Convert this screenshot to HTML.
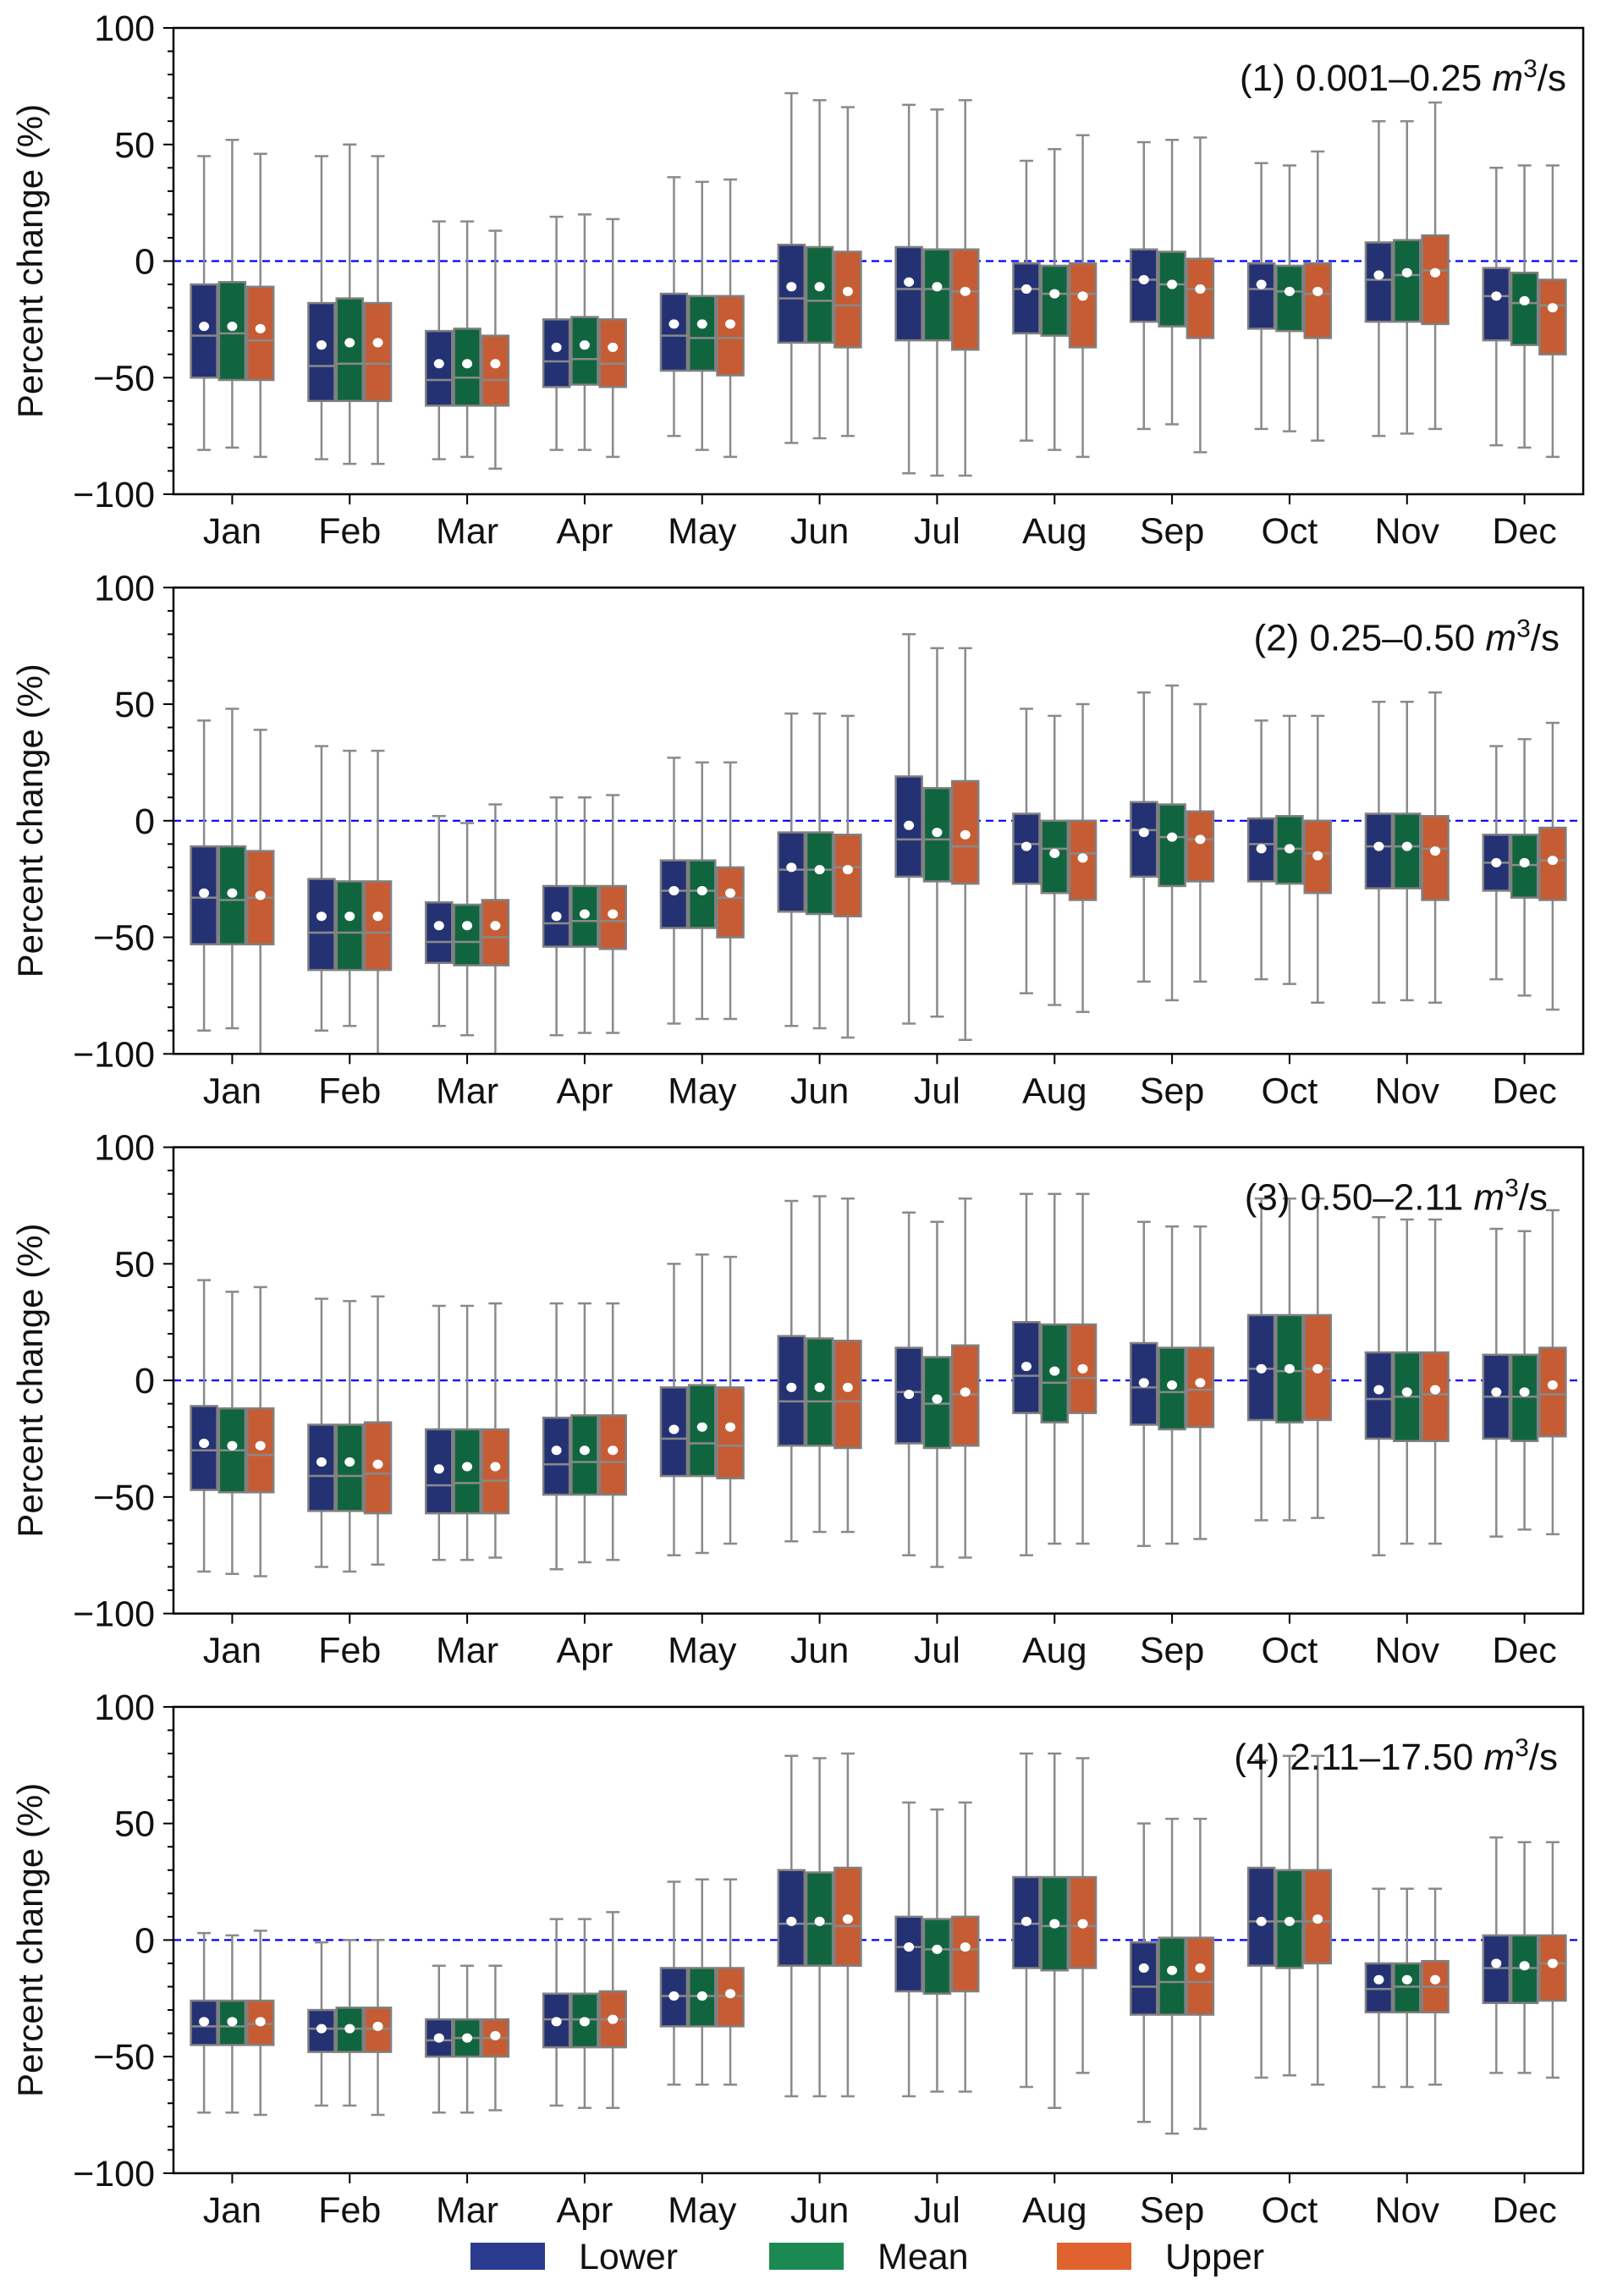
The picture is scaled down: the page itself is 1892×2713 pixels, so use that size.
<!DOCTYPE html>
<html><head><meta charset="utf-8"><style>
html,body{margin:0;padding:0;background:#fff}
svg{display:block}
text{font-family:"Liberation Sans",sans-serif;fill:#111}
</style></head><body>
<svg id="chart" width="1892" height="2713" viewBox="0 0 1892 2713" xmlns="http://www.w3.org/2000/svg"></svg>
<script>
const months = ["Jan","Feb","Mar","Apr","May","Jun","Jul","Aug","Sep","Oct","Nov","Dec"];
const seriesNames = ["Lower","Mean","Upper"];
const yTicks = [100,50,0,-50,-100];
const panelTitles = ["(1) 0.001\u20130.25 ","(2) 0.25\u20130.50 ","(3) 0.50\u20132.11 ","(4) 2.11\u201317.50 "];
// each row: [whiskerHigh, q3, median, q1, whiskerLow, mean]
const p1Lower = [[45,-10,-32,-50,-81,-28],[45,-18,-45,-60,-85,-36],[17,-30,-51,-62,-85,-44],[19,-25,-43,-54,-81,-37],[36,-14,-32,-47,-75,-27],[72,7,-16,-35,-78,-11],[67,6,-12,-34,-91,-9],[43,-1,-12,-31,-77,-12],[51,5,-8,-26,-72,-8],[42,-1,-12,-29,-72,-10],[60,8,-8,-26,-75,-6],[40,-3,-15,-34,-79,-15]];
const p1Mean = [[52,-9,-31,-51,-80,-28],[50,-16,-44,-60,-87,-35],[17,-29,-50,-62,-84,-44],[20,-24,-42,-53,-81,-36],[34,-15,-33,-47,-81,-27],[69,6,-17,-35,-76,-11],[65,5,-12,-34,-92,-11],[48,-2,-14,-32,-81,-14],[52,4,-10,-28,-70,-10],[41,-2,-13,-30,-73,-13],[60,9,-6,-26,-74,-5],[41,-5,-18,-36,-80,-17]];
const p1Upper = [[46,-11,-34,-51,-84,-29],[45,-18,-44,-60,-87,-35],[13,-32,-51,-62,-89,-44],[18,-25,-44,-54,-84,-37],[35,-15,-33,-49,-84,-27],[66,4,-19,-37,-75,-13],[69,5,-13,-38,-92,-13],[54,-1,-14,-37,-84,-15],[53,1,-12,-33,-82,-12],[47,-1,-14,-33,-77,-13],[68,11,-4,-27,-72,-5],[41,-8,-19,-40,-84,-20]];
const p2Lower = [[43,-11,-33,-53,-90,-31],[32,-25,-48,-64,-90,-41],[2,-35,-52,-61,-88,-45],[10,-28,-44,-54,-92,-41],[27,-17,-30,-46,-87,-30],[46,-5,-21,-39,-88,-20],[80,19,-8,-24,-87,-2],[48,3,-10,-27,-74,-11],[55,8,-4,-24,-69,-5],[43,1,-10,-26,-68,-12],[51,3,-11,-29,-78,-11],[32,-6,-18,-30,-68,-18]];
const p2Mean = [[48,-11,-34,-53,-89,-31],[30,-26,-48,-64,-88,-41],[-1,-36,-52,-62,-92,-45],[10,-28,-43,-54,-91,-40],[25,-17,-30,-46,-85,-30],[46,-5,-21,-40,-89,-21],[74,14,-8,-26,-84,-5],[45,0,-12,-31,-79,-14],[58,7,-7,-28,-77,-7],[45,2,-12,-27,-70,-12],[51,3,-11,-29,-77,-11],[35,-6,-19,-33,-75,-18]];
const p2Upper = [[39,-13,-33,-53,-100,-32],[30,-26,-48,-64,-100,-41],[7,-34,-50,-62,-100,-45],[11,-28,-43,-55,-91,-40],[25,-20,-33,-50,-85,-31],[45,-6,-20,-41,-93,-21],[74,17,-11,-27,-94,-6],[50,0,-14,-34,-82,-16],[50,4,-8,-26,-69,-8],[45,0,-14,-31,-78,-15],[55,2,-12,-34,-78,-13],[42,-3,-17,-34,-81,-17]];
const p3Lower = [[43,-11,-30,-47,-82,-27],[35,-19,-41,-56,-80,-35],[32,-21,-45,-57,-77,-38],[33,-16,-36,-49,-81,-30],[50,-3,-25,-41,-75,-21],[77,19,-9,-28,-69,-3],[72,14,-5,-27,-75,-6],[80,25,2,-14,-75,6],[68,16,-3,-19,-71,-1],[78,28,5,-17,-60,5],[70,12,-8,-25,-75,-4],[65,11,-7,-25,-67,-5]];
const p3Mean = [[38,-12,-30,-48,-83,-28],[34,-19,-41,-56,-82,-35],[32,-21,-44,-57,-77,-37],[33,-15,-35,-49,-78,-30],[54,-2,-27,-41,-74,-20],[79,18,-9,-28,-65,-3],[68,10,-10,-29,-80,-8],[80,24,-1,-18,-70,4],[66,14,-5,-21,-70,-2],[78,28,4,-18,-60,5],[69,12,-7,-26,-70,-5],[64,11,-7,-26,-64,-5]];
const p3Upper = [[40,-12,-32,-48,-84,-28],[36,-18,-40,-57,-79,-36],[33,-21,-43,-57,-76,-37],[33,-15,-35,-49,-77,-30],[53,-3,-28,-42,-70,-20],[78,17,-9,-29,-65,-3],[78,15,-6,-28,-76,-5],[80,24,1,-14,-70,5],[66,14,-4,-20,-68,-1],[78,28,5,-17,-59,5],[69,12,-6,-26,-70,-4],[73,14,-6,-24,-66,-2]];
const p4Lower = [[3,-26,-37,-45,-74,-35],[-1,-30,-38,-48,-71,-38],[-11,-34,-43,-50,-74,-42],[9,-23,-34,-46,-71,-35],[25,-12,-24,-37,-62,-24],[79,30,7,-11,-67,8],[59,10,-3,-22,-67,-3],[80,27,7,-12,-63,8],[50,-1,-20,-32,-78,-12],[77,31,8,-11,-59,8],[22,-10,-21,-31,-63,-17],[44,2,-12,-27,-57,-10]];
const p4Mean = [[2,-26,-37,-45,-74,-35],[0,-29,-38,-48,-71,-38],[-11,-34,-42,-50,-74,-42],[9,-23,-34,-46,-72,-35],[26,-12,-24,-37,-62,-24],[78,29,7,-11,-67,8],[56,9,-4,-23,-65,-4],[80,27,6,-13,-72,7],[52,1,-18,-32,-83,-13],[79,30,8,-12,-58,8],[22,-10,-20,-31,-63,-17],[42,2,-12,-27,-57,-11]];
const p4Upper = [[4,-26,-36,-45,-75,-35],[0,-29,-38,-48,-75,-37],[-11,-34,-42,-50,-73,-41],[12,-22,-34,-46,-72,-34],[26,-12,-24,-37,-62,-23],[80,31,6,-11,-67,9],[59,10,-4,-22,-65,-3],[78,27,6,-12,-57,7],[52,1,-18,-32,-81,-12],[79,30,8,-10,-62,9],[22,-9,-20,-31,-62,-17],[42,2,-10,-26,-59,-10]];

const panels = [[p1Lower,p1Mean,p1Upper],[p2Lower,p2Mean,p2Upper],[p3Lower,p3Mean,p3Upper],[p4Lower,p4Mean,p4Upper]];
const boxColors = ["#243274","#10653f","#c65c33"];
const legendColors = ["#2b3b8f","#1b8a52","#e0622e"];
const NS = "http://www.w3.org/2000/svg";
const svg = document.getElementById('chart');
const L = 205, R = 1871, TOP0 = 33, PH = 551, PSTEP = 661.3;
const bandW = (R - L) / 12;
function mk(tag, attrs, parent){ const e = document.createElementNS(NS, tag); for (const k in attrs) e.setAttribute(k, attrs[k]); (parent||svg).appendChild(e); return e; }
function xCenter(i){ return L + bandW * (i + 0.5); }

panels.forEach((series, p) => {
  const top = TOP0 + p * PSTEP, bot = top + PH;
  const y = v => top + (100 - v) / 200 * PH;
  const g = mk('g', {});
  
  
  // zero line
  const zl = mk('line', {x1:L, x2:R, y1:y(0), y2:y(0), stroke:'#0000ff', 'stroke-width':2.2, 'stroke-dasharray':'9,6'}, g);
  
  
  // boxes
  series.forEach((rows, s) => {
    rows.forEach((r, m) => {
      const cx = xCenter(m) + (s - 1) * 33.3, w = 31;
      const bg = mk('g', {}, g);
      
      
      const st = {stroke:'#8a8a8a','stroke-width':2.5};
      mk('line', Object.assign({x1:cx,x2:cx,y1:y(r[0]),y2:y(r[1])}, st), bg);
      mk('line', Object.assign({x1:cx,x2:cx,y1:y(r[3]),y2:y(r[4])}, st), bg);
      mk('line', Object.assign({x1:cx-8,x2:cx+8,y1:y(r[0]),y2:y(r[0])}, st), bg);
      mk('line', Object.assign({x1:cx-8,x2:cx+8,y1:y(r[4]),y2:y(r[4])}, st), bg);
      mk('rect', {x:cx-w/2, y:y(r[1]), width:w, height:y(r[3])-y(r[1]), fill:boxColors[s], stroke:'#808080','stroke-width':2.5}, bg);
      mk('line', Object.assign({x1:cx-w/2,x2:cx+w/2,y1:y(r[2]),y2:y(r[2])}, st), bg);
      mk('ellipse', {cx:cx, cy:y(r[5]), rx:6, ry:5.5, fill:'#fff'}, bg);
    });
  });
  // frame
  const fr = mk('rect', {x:L, y:top, width:R-L, height:PH, fill:'none', stroke:'#000', 'stroke-width':2.5}, g);
  
  
  // y ticks
  for (let v = -100; v <= 100; v += 10) {
    const major = v % 50 === 0;
    mk('line', {x1:L-(major?12:7), x2:L, y1:y(v), y2:y(v), stroke:'#000', 'stroke-width':2}, g);
  }
  yTicks.forEach(v => {
    const t = mk('text', {x:L-22, y:y(v)+15, 'text-anchor':'end', 'font-size':43}, g);
    t.textContent = v < 0 ? '\u2212' + Math.abs(v) : String(v);
    
    
  });
  months.forEach((mo, i) => {
    mk('line', {x1:xCenter(i), x2:xCenter(i), y1:bot, y2:bot+12, stroke:'#000', 'stroke-width':2}, g);
    const t = mk('text', {x:xCenter(i), y:bot+58, 'text-anchor':'middle', 'font-size':43}, g);
    t.textContent = mo;
    
    
  });
  const yt = mk('text', {x:0, y:0, 'text-anchor':'middle', 'font-size':42, transform:`translate(50,${top+PH/2}) rotate(-90)`}, g);
  yt.textContent = 'Percent change (%)';
  
  
  const tt = mk('text', {x:1851 - (p===2?22:p===1?8:p===3?10:0), y:top+74, 'text-anchor':'end', 'font-size':44}, g);
  
  
  tt.appendChild(document.createTextNode(panelTitles[p]));
  const mi = mk('tspan', {'font-style':'italic'}, tt); mi.textContent = 'm';
  const sup = mk('tspan', {'font-size':30, dy:-16}, tt); sup.textContent = '3';
  const sl = mk('tspan', {dy:16}, tt); sl.textContent = '/s';
});

// legend
const legX = [556, 909, 1249], legTX = [684, 1037, 1377];
seriesNames.forEach((n, i) => {
  const lg = mk('g', {});
  
  
  mk('rect', {x:legX[i], y:2650, width:88, height:32, fill:legendColors[i]}, lg);
  const t = mk('text', {x:legTX[i], y:2681, 'font-size':43}, lg);
  t.textContent = n;
});
</script>
</body></html>
